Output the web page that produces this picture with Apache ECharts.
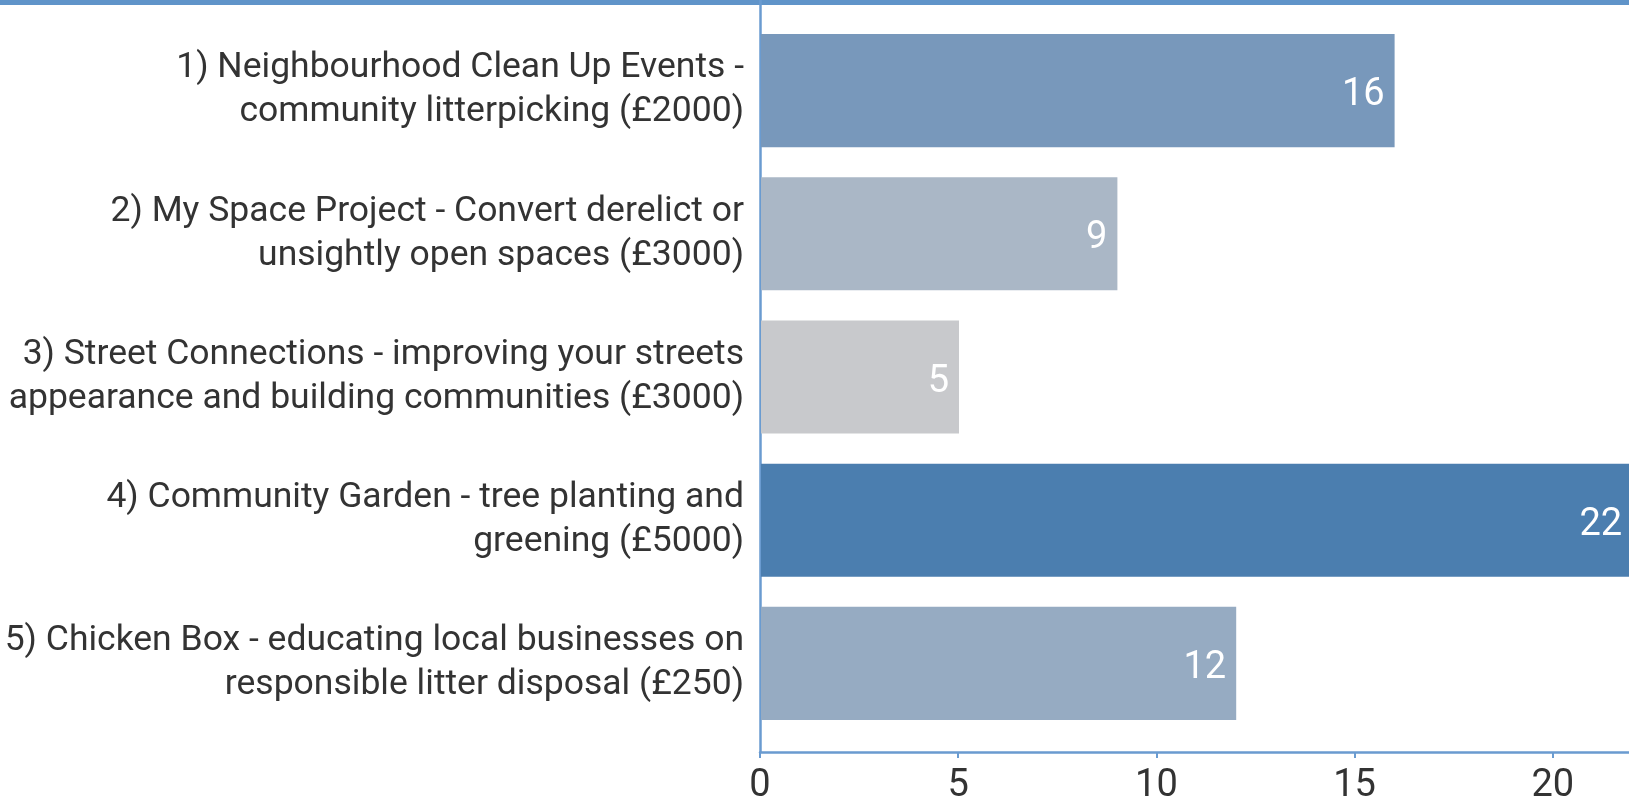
<!DOCTYPE html>
<html>
<head>
    <meta charset="utf-8">
    <title>ECharts</title>
    <script src="https://cdn.jsdelivr.net/npm/echarts@6/dist/echarts.min.js"></script>
</head>
<body>
<style>
    html, body, #main {
        width: 100%;
        padding: 0;
        margin: 0;
        height: 100%;
    }
</style>

<div id="main"></div>

<script type="text/javascript">
    // categories, top to bottom
    var projects = [
        '1) Neighbourhood Clean Up Events -\ncommunity litterpicking (£2000)',
        '2) My Space Project - Convert derelict or\nunsightly open spaces (£3000)',
        '3) Street Connections - improving your streets\nappearance and building communities (£3000)',
        '4) Community Garden - tree planting and\ngreening (£5000)',
        '5) Chicken Box - educating local businesses on\nresponsible litter disposal (£250)'
    ];
    var votes = [16, 9, 5, 22, 12];
    var barColors = ['#7898bb', '#aab7c6', '#c8c9cc', '#4b7eaf', '#96abc2'];
    var xTicks = [0, 5, 10, 15, 20, 25];

    var font = 'Roboto';
    var axisBlue = '#6a9bd0';

    var myChart = echarts.init(document.getElementById('main'));

    var option = {
        animation: false,
        graphic: [{
            type: 'rect',
            shape: { x: 0, y: 0, width: 1629, height: 5 },
            style: { fill: '#6094c9' }
        }],
        grid: [
            // bars (grid runs past the right edge, 25 is off screen)
            { left: 761, width: 990, top: 19, bottom: 66, outerBoundsMode: 'none' },
            // axis frame
            { left: 760, width: 991, top: 0, bottom: 49, outerBoundsMode: 'none' }
        ],
        xAxis: [
            {
                gridIndex: 0, type: 'value',
                min: xTicks[0], max: xTicks[xTicks.length - 1], interval: 5,
                show: false
            },
            {
                gridIndex: 1, type: 'value',
                min: xTicks[0], max: xTicks[xTicks.length - 1], interval: 5,
                axisLine: { show: true, lineStyle: { color: axisBlue, width: 2.5 } },
                axisTick: { show: true, length: 6, lineStyle: { color: axisBlue, width: 2 } },
                splitLine: { show: false },
                axisLabel: {
                    color: '#333', fontSize: 38, fontFamily: font, margin: 15
                }
            }
        ],
        yAxis: [
            {
                gridIndex: 0, type: 'category', inverse: true,
                data: projects,
                axisLine: { show: false },
                axisTick: { show: false },
                axisLabel: {
                    color: '#333', fontSize: 35.5, fontFamily: font,
                    lineHeight: 44, align: 'right', margin: 17
                }
            },
            {
                gridIndex: 1, type: 'value',
                axisLine: { show: true, lineStyle: { color: axisBlue, width: 2.5 } },
                axisTick: { show: false },
                axisLabel: { show: false },
                splitLine: { show: false }
            }
        ],
        series: [{
            type: 'bar',
            xAxisIndex: 0,
            yAxisIndex: 0,
            barCategoryGap: '21%',
            data: votes.map(function (v, i) {
                return { value: v, itemStyle: { color: barColors[i] } };
            }),
            label: {
                show: true,
                position: 'insideRight',
                distance: 10,
                offset: [0, 5],
                color: '#fff',
                fontSize: 38,
                fontFamily: font
            }
        }]
    };

    myChart.setOption(option);

    window.onresize = function () {
        myChart.resize();
    };
</script>
</body>
</html>
